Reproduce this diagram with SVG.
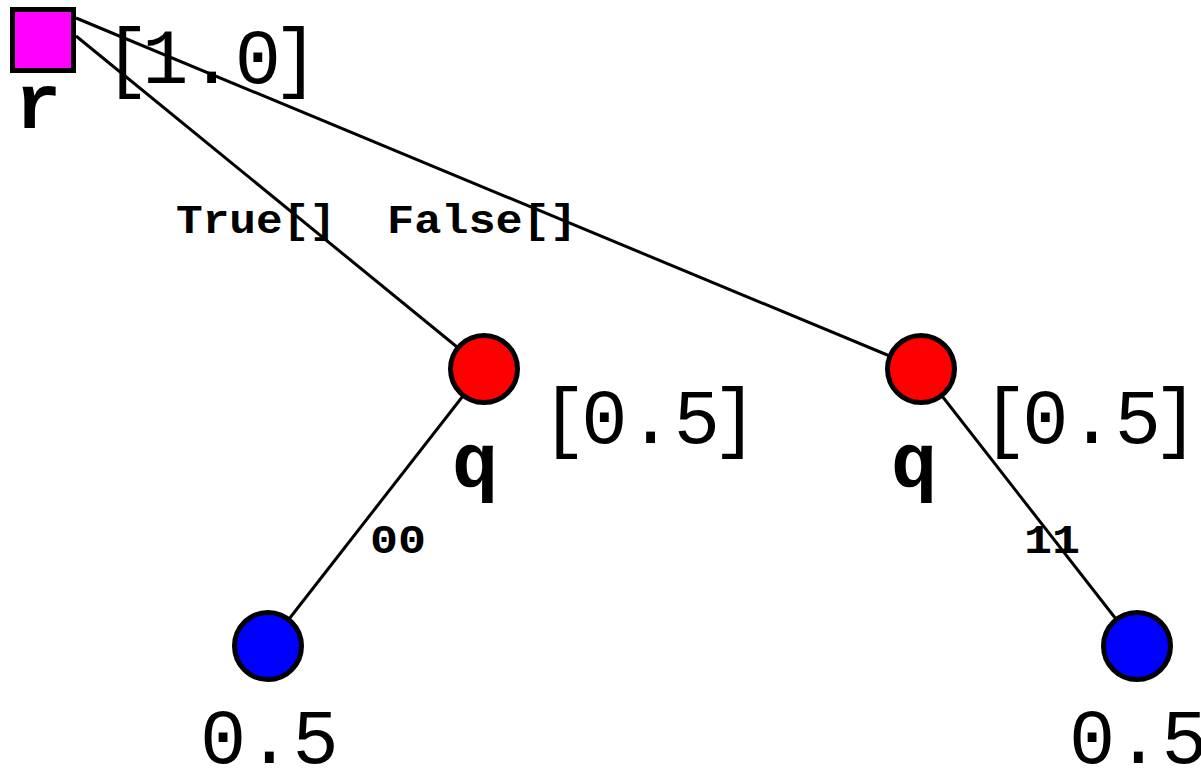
<svg xmlns="http://www.w3.org/2000/svg" width="1201" height="769" viewBox="0 0 1201 769">
<style>
.edge{stroke:#000;stroke-width:3;fill:none}
.elabel{font-family:"Liberation Mono",monospace;font-weight:bold;font-size:40px;fill:#000}
.big{font-family:"Liberation Mono",monospace;font-size:77px;fill:#000}
.name{font-family:"Liberation Mono",monospace;font-weight:bold;font-size:77px;fill:#000}
.node{stroke:#000;stroke-width:5}
</style>
<rect width="1201" height="769" fill="#fff"/>
<g id="connectors">
<text class="elabel" x="176" y="233" textLength="160" lengthAdjust="spacingAndGlyphs">True[]</text>
<text class="elabel" x="387" y="233" textLength="190" lengthAdjust="spacingAndGlyphs">False[]</text>
<text class="elabel" x="370" y="553" textLength="56" lengthAdjust="spacingAndGlyphs">00</text>
<text class="elabel" x="1024" y="553" textLength="56" lengthAdjust="spacingAndGlyphs">11</text>
<line class="edge" x1="76" y1="36" x2="484" y2="369"/>
<line class="edge" x1="76" y1="18" x2="921" y2="369"/>
<line class="edge" x1="484" y1="369" x2="268" y2="646"/>
<line class="edge" x1="921" y1="369" x2="1137" y2="646"/>
</g>
<g id="r">
<rect class="node" x="12.5" y="9.5" width="61" height="61" fill="#f0f"/>
<text class="name" x="15" y="128">r</text>
<text class="big" x="96" y="83" dx="8 -8 0 0 -8">[1.0]</text>
</g>
<g id="q1">
<circle class="node" cx="484" cy="369" r="33.5" fill="#f00"/>
<text class="name" x="452" y="487">q</text>
<text class="big" x="535" y="443" dx="6 -6 0 0 -8">[0.5]</text>
</g>
<g id="q2">
<circle class="node" cx="921" cy="369" r="33.5" fill="#f00"/>
<text class="name" x="891" y="487">q</text>
<text class="big" x="976" y="443" dx="6 -6 0 0 -8">[0.5]</text>
</g>
<g id="leaf1">
<circle class="node" cx="268" cy="646" r="33.5" fill="#00f"/>
<text class="big" x="200" y="763">0.5</text>
</g>
<g id="leaf2">
<circle class="node" cx="1137" cy="646" r="33.5" fill="#00f"/>
<text class="big" x="1069" y="763">0.5</text>
</g>
</svg>
